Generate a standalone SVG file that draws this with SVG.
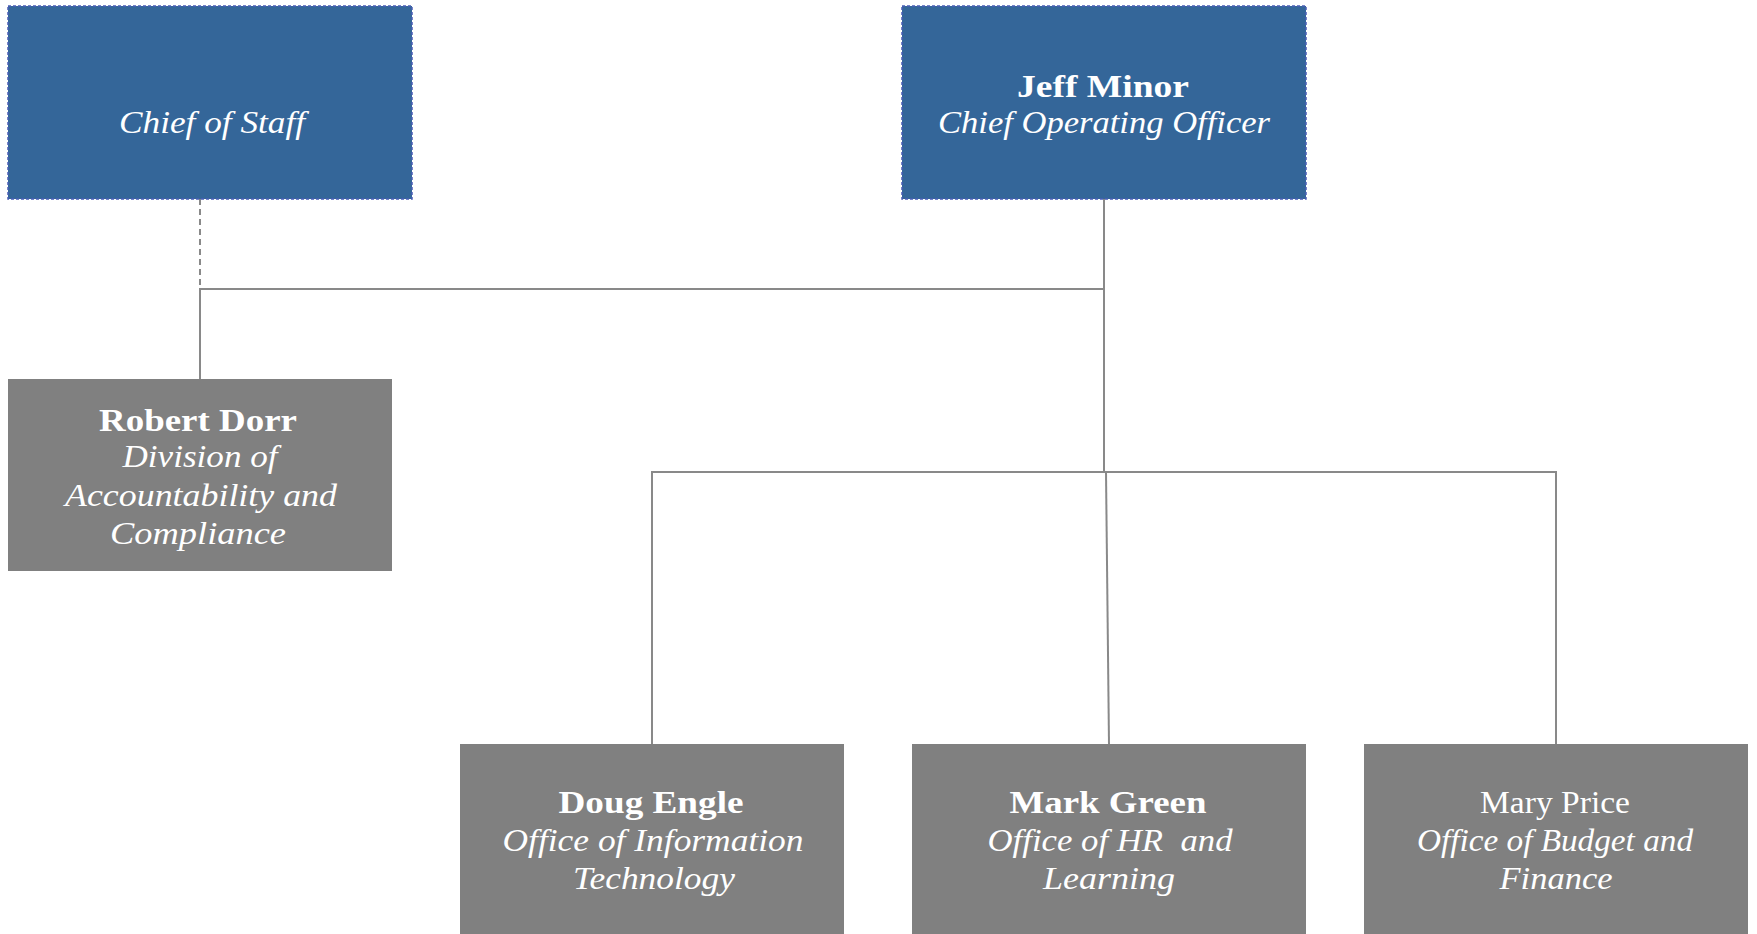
<svg xmlns="http://www.w3.org/2000/svg" width="1757" height="934" viewBox="0 0 1757 934">
<style>
.blue{fill:#346699;stroke:#4a5db5;stroke-width:1.5;stroke-dasharray:3 2}
.gray{fill:#808080}
text{font-family:"Liberation Serif","Times New Roman",serif;font-size:32px;fill:#fff;text-anchor:middle;white-space:pre}
.b{font-weight:bold}
.i{font-style:italic}
.ln{fill:none;stroke:#898989;stroke-width:2}
.dash{fill:none;stroke:#898989;stroke-width:2;stroke-dasharray:6 4}
</style>
<rect width="1757" height="934" fill="#fff"/>
<g id="connectors">
<path class="dash" d="M200 199 V379"/>
<path class="ln" d="M200 379 V289 H1104"/>
<path class="ln" d="M1104 199 V472"/>
<path class="ln" d="M652 744 V472 H1556 V744"/>
<path class="ln" d="M1106 472 L1109 744"/>
</g>
<g id="chief-of-staff">
<rect class="blue" x="8" y="6" width="404" height="193"/>
<text class="i" x="212" y="133" textLength="186" lengthAdjust="spacingAndGlyphs">Chief of Staff</text>
</g>
<g id="jeff-minor">
<rect class="blue" x="902" y="6" width="404" height="193"/>
<text class="b" x="1103" y="97" textLength="172" lengthAdjust="spacingAndGlyphs">Jeff Minor</text>
<text class="i" x="1104" y="133" textLength="332" lengthAdjust="spacingAndGlyphs">Chief Operating Officer</text>
</g>
<g id="robert-dorr">
<rect class="gray" x="8" y="379" width="384" height="192"/>
<text class="b" x="198" y="431" textLength="198" lengthAdjust="spacingAndGlyphs">Robert Dorr</text>
<text class="i" x="200" y="467" textLength="155" lengthAdjust="spacingAndGlyphs">Division of</text>
<text class="i" x="201" y="506" textLength="272" lengthAdjust="spacingAndGlyphs">Accountability and</text>
<text class="i" x="198" y="544" textLength="176" lengthAdjust="spacingAndGlyphs">Compliance</text>
</g>
<g id="doug-engle">
<rect class="gray" x="460" y="744" width="384" height="200"/>
<text class="b" x="651" y="813" textLength="185" lengthAdjust="spacingAndGlyphs">Doug Engle</text>
<text class="i" x="653" y="851" textLength="301" lengthAdjust="spacingAndGlyphs">Office of Information</text>
<text class="i" x="654" y="889" textLength="162" lengthAdjust="spacingAndGlyphs">Technology</text>
</g>
<g id="mark-green">
<rect class="gray" x="912" y="744" width="394" height="200"/>
<text class="b" x="1108" y="813" textLength="197" lengthAdjust="spacingAndGlyphs">Mark Green</text>
<text class="i" x="1110" y="851" textLength="245" lengthAdjust="spacingAndGlyphs">Office of HR  and</text>
<text class="i" x="1109" y="889" textLength="132" lengthAdjust="spacingAndGlyphs">Learning</text>
</g>
<g id="mary-price">
<rect class="gray" x="1364" y="744" width="384" height="200"/>
<text x="1555" y="813" textLength="150" lengthAdjust="spacingAndGlyphs">Mary Price</text>
<text class="i" x="1555" y="851" textLength="276" lengthAdjust="spacingAndGlyphs">Office of Budget and</text>
<text class="i" x="1556" y="889" textLength="113" lengthAdjust="spacingAndGlyphs">Finance</text>
</g>
</svg>
